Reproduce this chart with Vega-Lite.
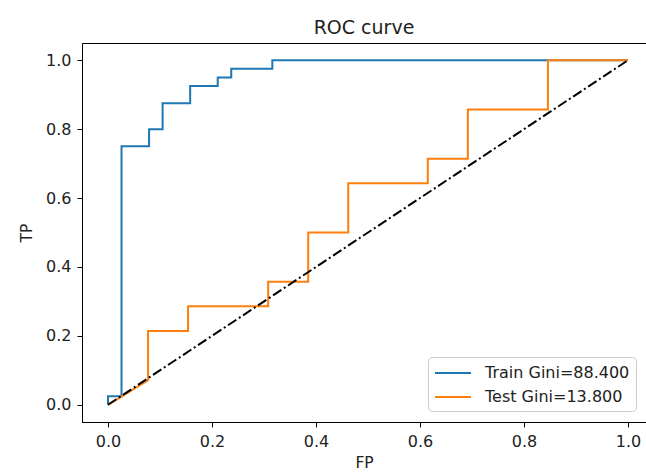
{
  "$schema": "https://vega.github.io/schema/vega-lite/v6.json",
  "width": 564,
  "height": 379,
  "autosize": {"type": "none"},
  "padding": {"left": 82, "top": 43, "right": 0, "bottom": 51},
  "background": "white",
  "config": {
    "font": "DejaVu Sans",
    "view": {"stroke": "black", "strokeWidth": 1},
    "axis": {
      "grid": false,
      "domainColor": "black",
      "tickColor": "black",
      "tickSize": 5,
      "labelFont": "DejaVu Sans",
      "labelFontSize": 16,
      "labelColor": "#222222",
      "titleFont": "DejaVu Sans",
      "titleFontSize": 15.5,
      "titleFontWeight": "normal",
      "titleColor": "#222222",
      "labelPadding": 6
    },
    "title": {"font": "DejaVu Sans", "fontSize": 19, "fontWeight": "normal", "color": "#222222", "offset": 5}
  },
  "title": {"text": "ROC curve", "anchor": "middle"},
  "datasets": {
    "roc": [
      {"series": "Train Gini=88.400", "i": 0, "fp": 0.0, "tp": 0.0},
      {"series": "Train Gini=88.400", "i": 1, "fp": 0.0, "tp": 0.025},
      {"series": "Train Gini=88.400", "i": 2, "fp": 0.026, "tp": 0.025},
      {"series": "Train Gini=88.400", "i": 3, "fp": 0.026, "tp": 0.75},
      {"series": "Train Gini=88.400", "i": 4, "fp": 0.079, "tp": 0.75},
      {"series": "Train Gini=88.400", "i": 5, "fp": 0.079, "tp": 0.8},
      {"series": "Train Gini=88.400", "i": 6, "fp": 0.105, "tp": 0.8},
      {"series": "Train Gini=88.400", "i": 7, "fp": 0.105, "tp": 0.875},
      {"series": "Train Gini=88.400", "i": 8, "fp": 0.158, "tp": 0.875},
      {"series": "Train Gini=88.400", "i": 9, "fp": 0.158, "tp": 0.925},
      {"series": "Train Gini=88.400", "i": 10, "fp": 0.211, "tp": 0.925},
      {"series": "Train Gini=88.400", "i": 11, "fp": 0.211, "tp": 0.95},
      {"series": "Train Gini=88.400", "i": 12, "fp": 0.237, "tp": 0.95},
      {"series": "Train Gini=88.400", "i": 13, "fp": 0.237, "tp": 0.975},
      {"series": "Train Gini=88.400", "i": 14, "fp": 0.316, "tp": 0.975},
      {"series": "Train Gini=88.400", "i": 15, "fp": 0.316, "tp": 1.0},
      {"series": "Train Gini=88.400", "i": 16, "fp": 1.0, "tp": 1.0},
      {"series": "Test Gini=13.800", "i": 0, "fp": 0.0, "tp": 0.0},
      {"series": "Test Gini=13.800", "i": 1, "fp": 0.077, "tp": 0.071},
      {"series": "Test Gini=13.800", "i": 2, "fp": 0.077, "tp": 0.214},
      {"series": "Test Gini=13.800", "i": 3, "fp": 0.154, "tp": 0.214},
      {"series": "Test Gini=13.800", "i": 4, "fp": 0.154, "tp": 0.286},
      {"series": "Test Gini=13.800", "i": 5, "fp": 0.308, "tp": 0.286},
      {"series": "Test Gini=13.800", "i": 6, "fp": 0.308, "tp": 0.357},
      {"series": "Test Gini=13.800", "i": 7, "fp": 0.385, "tp": 0.357},
      {"series": "Test Gini=13.800", "i": 8, "fp": 0.385, "tp": 0.5},
      {"series": "Test Gini=13.800", "i": 9, "fp": 0.462, "tp": 0.5},
      {"series": "Test Gini=13.800", "i": 10, "fp": 0.462, "tp": 0.643},
      {"series": "Test Gini=13.800", "i": 11, "fp": 0.615, "tp": 0.643},
      {"series": "Test Gini=13.800", "i": 12, "fp": 0.615, "tp": 0.714},
      {"series": "Test Gini=13.800", "i": 13, "fp": 0.692, "tp": 0.714},
      {"series": "Test Gini=13.800", "i": 14, "fp": 0.692, "tp": 0.857},
      {"series": "Test Gini=13.800", "i": 15, "fp": 0.846, "tp": 0.857},
      {"series": "Test Gini=13.800", "i": 16, "fp": 0.846, "tp": 1.0},
      {"series": "Test Gini=13.800", "i": 17, "fp": 1.0, "tp": 1.0}
    ],
    "diag": [
      {"fp": 0.0, "tp": 0.0},
      {"fp": 1.0, "tp": 1.0}
    ]
  },
  "encoding": {
    "x": {
      "field": "fp", "type": "quantitative", "title": "FP",
      "scale": {"domain": [-0.05, 1.0346], "nice": false, "zero": false},
      "axis": {"values": [0, 0.2, 0.4, 0.6, 0.8, 1.0], "format": ".1f", "titlePadding": 6, "labelFlush": false}
    },
    "y": {
      "field": "tp", "type": "quantitative", "title": "TP",
      "scale": {"domain": [-0.05, 1.05], "nice": false, "zero": false},
      "axis": {"values": [0, 0.2, 0.4, 0.6, 0.8, 1.0], "format": ".1f", "titlePadding": 11, "labelFlush": false}
    }
  },
  "layer": [
    {
      "data": {"name": "roc"},
      "mark": {"type": "line", "strokeWidth": 2, "clip": true},
      "encoding": {
        "order": {"field": "i", "type": "quantitative"},
        "color": {
          "field": "series", "type": "nominal",
          "scale": {"domain": ["Train Gini=88.400", "Test Gini=13.800"], "range": ["#1f77b4", "#ff7f0e"]},
          "sort": ["Train Gini=88.400", "Test Gini=13.800"],
          "legend": {
            "title": null,
            "orient": "none",
            "legendX": 346,
            "legendY": 314,
            "symbolType": "M-1,0H3",
            "symbolSize": 324,
            "symbolStrokeWidth": 2,
            "labelFont": "DejaVu Sans",
            "labelFontSize": 16,
            "labelColor": "#222222",
            "labelOffset": 31,
            "fillColor": "white",
            "strokeColor": "#cccccc",
            "cornerRadius": 4,
            "padding": 6,
            "rowPadding": 6,
            "labelLimit": 300
          }
        }
      }
    },
    {
      "data": {"name": "diag"},
      "mark": {"type": "line", "color": "black", "strokeWidth": 2, "strokeDash": [10, 3, 2, 3]},
      "encoding": {}
    }
  ]
}
